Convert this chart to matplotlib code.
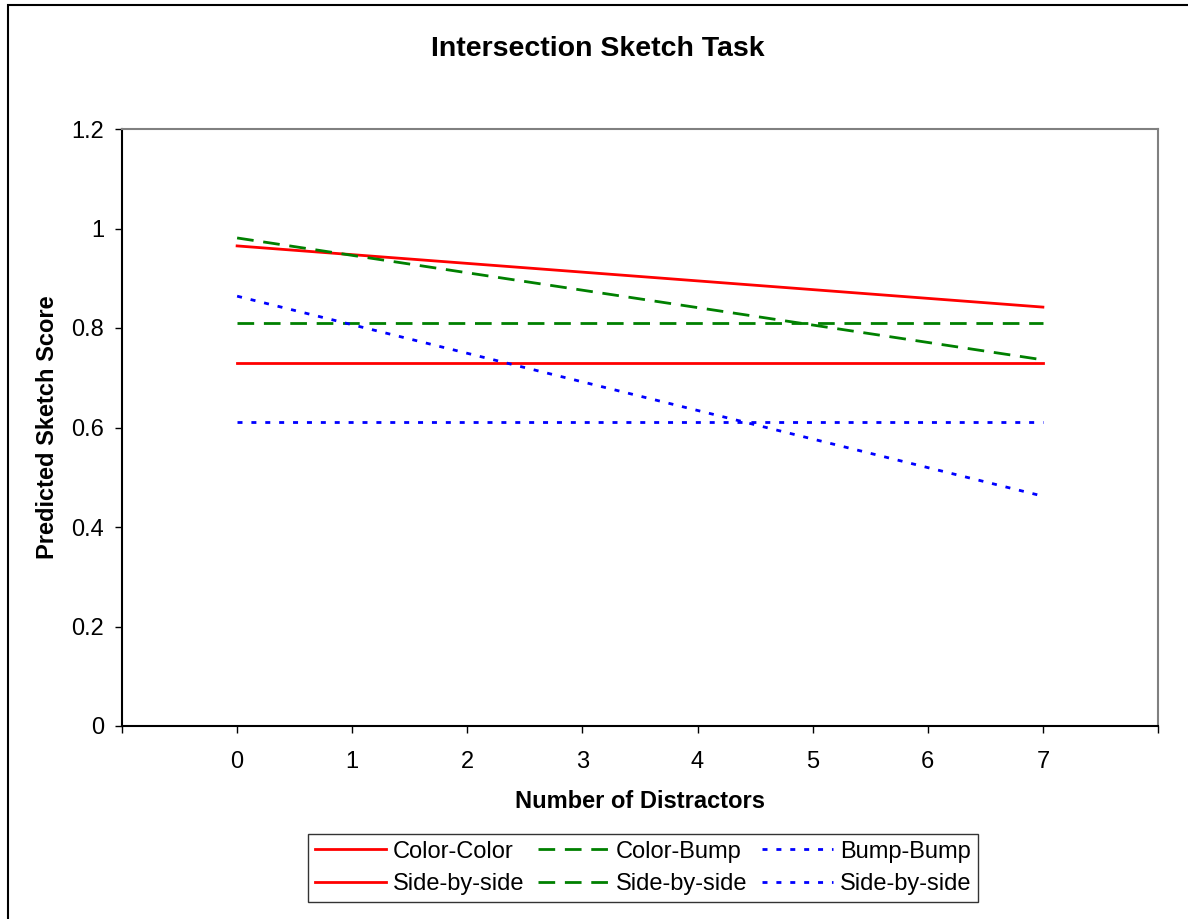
import matplotlib.pyplot as plt
from matplotlib.patches import Rectangle

plt.rcParams['font.family'] = ['Liberation Sans', 'DejaVu Sans']

# Predicted scores at 0 and 7 distractors (straight-line fits)
distractors = [0, 7]
color_color = [0.965, 0.842]
color_bump = [0.981, 0.736]
bump_bump = [0.864, 0.462]
color_color_sbs = [0.730, 0.730]
color_bump_sbs = [0.810, 0.810]
bump_bump_sbs = [0.611, 0.611]

x_ticks = list(range(-1, 9))
x_labels = [''] + [str(i) for i in range(8)] + ['']
y_ticks = [0, 0.2, 0.4, 0.6, 0.8, 1.0, 1.2]
y_labels = ['0', '0.2', '0.4', '0.6', '0.8', '1', '1.2']

W, H = 1188, 919
fig = plt.figure(figsize=(W / 100, H / 100), dpi=100)
ax = fig.add_axes([122 / W, 1 - 726 / H, (1158 - 122) / W, (726 - 129) / H])

# outer chart frame (right and bottom edges fall outside the image)
fig.patches.append(Rectangle((8 / W, -0.05), 1.2, 1 - 5 / H + 0.05,
                             transform=fig.transFigure, fill=False,
                             edgecolor='black', linewidth=1.5))

dash = (0, (6, 3.5))
dot = (0, (1.8, 3.2))
ax.plot(distractors, color_color, color='#ff0000', linestyle='-', linewidth=2, label='Color-Color')
ax.plot(distractors, color_color_sbs, color='#ff0000', linestyle='-', linewidth=2, label='Side-by-side')
ax.plot(distractors, color_bump, color='#008000', linestyle=dash, linewidth=2, label='Color-Bump')
ax.plot(distractors, color_bump_sbs, color='#008000', linestyle=dash, linewidth=2, label='Side-by-side')
ax.plot(distractors, bump_bump, color='#0000ff', linestyle=dot, linewidth=2, label='Bump-Bump')
ax.plot(distractors, bump_bump_sbs, color='#0000ff', linestyle=dot, linewidth=2, label='Side-by-side')

ax.set_xlim(-1, 8)
ax.set_ylim(0, 1.2)
ax.set_xticks(x_ticks)
ax.set_xticklabels(x_labels)
ax.set_yticks(y_ticks)
ax.set_yticklabels(y_labels)
ax.tick_params(axis='both', direction='out', length=5, width=1, labelsize=17, colors='black')
ax.tick_params(axis='x', pad=13)
ax.tick_params(axis='y', pad=8)

ax.spines['left'].set_color('black')
ax.spines['bottom'].set_color('black')
ax.spines['top'].set_color('#808080')
ax.spines['right'].set_color('#808080')
for s in ax.spines.values():
    s.set_linewidth(1.5)

fig.text(598 / W, 1 - 49 / H, 'Intersection Sketch Task', ha='center', va='center',
         fontsize=20.5, fontweight='bold')
ax.set_xlabel('Number of Distractors', fontsize=17, fontweight='bold')
ax.xaxis.set_label_coords(0.5, (726 - 801) / 597)
ax.xaxis.label.set_va('center')
ax.set_ylabel('Predicted Sketch Score', fontsize=17, fontweight='bold')
ax.yaxis.set_label_coords((48 - 122) / 1036, 0.5)
ax.yaxis.label.set_va('center')

leg = ax.legend(loc='center', bbox_to_anchor=(643 / W, 1 - 868 / H),
                bbox_transform=fig.transFigure, ncol=3, fontsize=17, frameon=True,
                fancybox=False, edgecolor='black', handlelength=3.0, handletextpad=0.3,
                columnspacing=0.6, borderpad=0.3, labelspacing=0.45)
leg.get_frame().set_linewidth(1)

fig.savefig('out.png', dpi=100, facecolor='white')
